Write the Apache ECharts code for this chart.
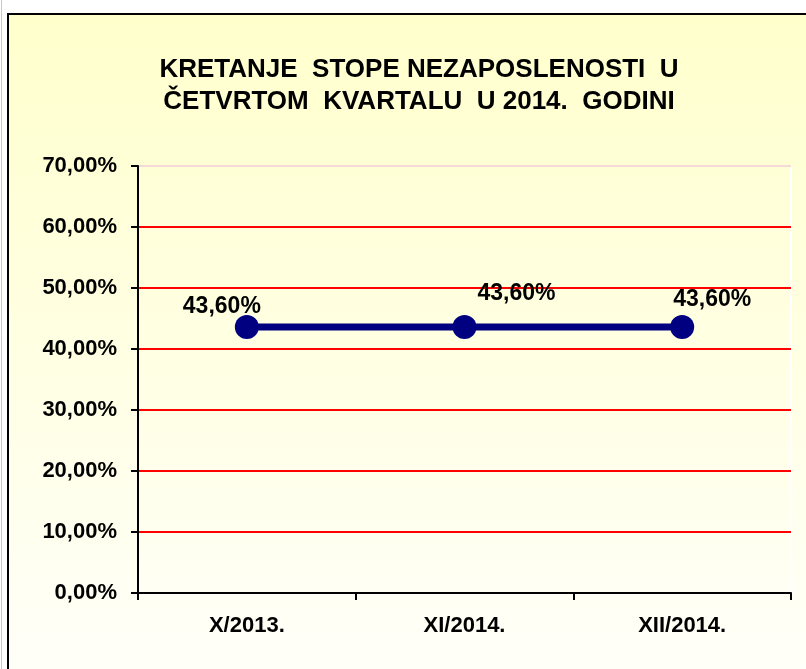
<!DOCTYPE html>
<html>
<head>
<meta charset="utf-8">
<script src="https://cdn.jsdelivr.net/npm/echarts@6/dist/echarts.min.js"></script>
<style>
html,body{margin:0;padding:0;background:#fff;}
#c{width:806px;height:669px;}
</style>
</head>
<body>
<div id="c"></div>
<script>
const titleLines = ['KRETANJE  STOPE NEZAPOSLENOSTI  U', 'ČETVRTOM  KVARTALU  U 2014.  GODINI'];
const categories = ['X/2013.', 'XI/2014.', 'XII/2014.'];
const values = [43.6, 43.6, 43.6];
const labelOffsets = [[-25, -20], [52, -33], [30, -27]];
const yMin = 0, yMax = 70, yStep = 10;

const fmt = v => v.toFixed(2).replace('.', ',') + '%';
const FONT = 'Liberation Sans, Arial, sans-serif';

const chart = echarts.init(document.getElementById('c'), null, {renderer: 'canvas'});
chart.setOption({
  backgroundColor: '#ffffff',
  animation: false,
  graphic: [
    {type: 'rect', z: -10, shape: {x: 8, y: 14, width: 810, height: 670},
     style: {fill: {type: 'linear', x: 0, y: 0, x2: 0, y2: 1,
       colorStops: [{offset: 0, color: '#FFFFCC'}, {offset: 1, color: '#FFFFFA'}]},
       stroke: '#000', lineWidth: 2}},
    {type: 'line', z: -10, shape: {x1: 1.5, y1: 0, x2: 1.5, y2: 669}, style: {stroke: '#c8c8c8', lineWidth: 1}}
  ],
  title: {
    text: titleLines.join('\n'),
    left: 414, top: 49, textAlign: 'center',
    textStyle: {fontFamily: FONT, fontWeight: 'bold', fontSize: 26, color: '#000', lineHeight: 32}
  },
  grid: {left: 138, right: 15, top: 166, bottom: 76, show: true, borderColor: '#ffffff', borderWidth: 2, backgroundColor: 'transparent'},
  xAxis: {
    type: 'category', data: categories, boundaryGap: true,
    axisLine: {lineStyle: {color: '#000', width: 2}},
    axisTick: {show: true, length: 7, lineStyle: {color: '#000', width: 2}},
    axisLabel: {fontFamily: FONT, fontWeight: 'bold', fontSize: 22, color: '#000', margin: 22},
    splitLine: {show: false}
  },
  yAxis: {
    type: 'value', min: yMin, max: yMax, interval: yStep,
    axisLine: {show: true, lineStyle: {color: '#000', width: 2}},
    axisTick: {show: true, length: 7, lineStyle: {color: '#000', width: 2}},
    axisLabel: {fontFamily: FONT, fontWeight: 'bold', fontSize: 22, color: '#000', margin: 21, formatter: v => fmt(v)},
    splitLine: {show: true, lineStyle: {color: ['#FF0000','#FF0000','#FF0000','#FF0000','#FF0000','#FF0000','#FF0000','#F5D8D8'], width: 2}}
  },
  series: [{
    type: 'line',
    data: values.map((v, i) => ({value: v, label: {offset: labelOffsets[i]}})),
    symbol: 'circle', symbolSize: 24,
    lineStyle: {color: '#000080', width: 7},
    itemStyle: {color: '#000080'},
    label: {show: true, position: 'inside', fontFamily: FONT, fontWeight: 'bold', fontSize: 23, color: '#000',
      formatter: p => fmt(p.value)}
  }]
});
</script>
</body>
</html>
